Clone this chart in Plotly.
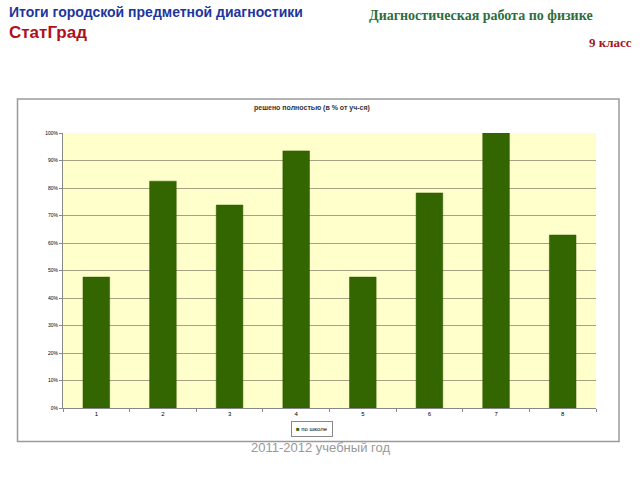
import plotly.graph_objects as go

categories = ["1", "2", "3", "4", "5", "6", "7", "8"]
values = [47.6, 82.5, 73.8, 93.5, 47.6, 78.2, 100.0, 62.9]
series_name = "по школе"
y_ticks = [0, 10, 20, 30, 40, 50, 60, 70, 80, 90, 100]
y_tick_labels = [f"{v}%" for v in y_ticks]

L, R, T, B = 63, 44, 133, 72
W, H = 640, 480
pw, ph = W - L - R, H - T - B

def px(x):
    return (x - L) / pw

def py(y):
    return (H - B - y) / ph

BAR_COLOR = "#336600"

fig = go.Figure()
fig.add_trace(go.Bar(
    x=categories, y=values, name=series_name,
    marker=dict(color=BAR_COLOR, line=dict(color="#2d5a00", width=0.5)),
    width=0.4, showlegend=False,
))

fig.update_layout(
    width=W, height=H,
    margin=dict(l=L, r=R, t=T, b=B),
    paper_bgcolor="white",
    plot_bgcolor="#FFFFCC",
)
fig.update_xaxes(
    type="category", tickson="boundaries", ticks="outside", ticklen=3,
    tickcolor="#888888", showline=True, linecolor="#888888", linewidth=1,
    tickfont=dict(family="Arial, Liberation Sans", size=6, color="#000"),
    showgrid=False,
)
fig.update_yaxes(
    range=[0, 100], tickvals=y_ticks, ticktext=y_tick_labels,
    ticks="outside", ticklen=3, tickcolor="#888888",
    showline=True, linecolor="#888888", linewidth=1,
    gridcolor="#a8a080", gridwidth=1,
    tickfont=dict(family="Arial, Liberation Sans", size=5, color="#000"),
    zeroline=False,
)

# chart frame
fig.add_shape(type="rect", xref="paper", yref="paper",
              x0=px(17.5), x1=px(619), y0=py(441.5), y1=py(99),
              line=dict(color="#9a9a9a", width=1.5), fillcolor="rgba(0,0,0,0)", layer="below")

def ann(text, x, y, size, color, family, xanchor="left", bold=False, **kw):
    fig.add_annotation(text=(f"<b>{text}</b>" if bold else text), xref="paper", yref="paper",
                       x=px(x), y=py(y), xanchor=xanchor, yanchor="middle",
                       showarrow=False, font=dict(size=size, color=color, family=family), **kw)

# legend (drawn as a boxed label)
fig.add_annotation(
    text=f"<span style='color:{BAR_COLOR}'>■</span> {series_name}",
    xref="paper", yref="paper", x=px(312), y=py(429), xanchor="center", yanchor="middle",
    showarrow=False, font=dict(size=6, color="#000", family="Arial, Liberation Sans"),
    bordercolor="#888888", borderwidth=1, borderpad=4, bgcolor="white",
)

ann("решено полностью (в % от уч-ся)", 312, 108, 7, "#333333", "Arial, Liberation Sans", "center", bold=True)
ann("Итоги городской предметной диагностики", 7, 12, 14, "#1f359e", "Arial, Liberation Sans", bold=True)
ann("СтатГрад", 7, 32, 17, "#b0101c", "Arial, Liberation Sans", bold=True)
ann("Диагностическая работа по физике", 367, 16, 14, "#2e6e3e", "Liberation Serif, Times New Roman", bold=True)
ann("9 класс", 634, 43, 13, "#a3162b", "Liberation Serif, Times New Roman", "right", bold=True)
ann("2011-2012 учебный год", 320, 447, 13, "#999999", "Arial, Liberation Sans", "center")

fig.write_html("out.html")
